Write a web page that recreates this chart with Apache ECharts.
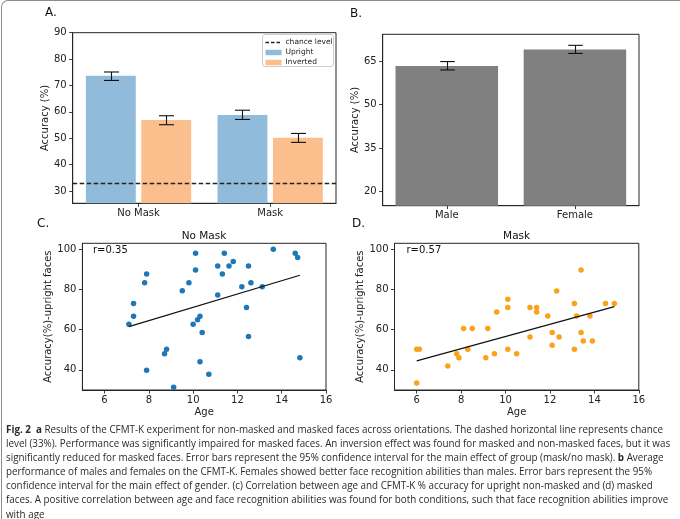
<!DOCTYPE html>
<html>
<head>
<meta charset="utf-8">
<script src="https://cdn.jsdelivr.net/npm/echarts@6/dist/echarts.min.js"></script>
<style>
  html, body { margin:0; padding:0; background:#fff; }
  #wrap { position:relative; width:680px; height:519px; overflow:hidden; background:#fff; }
  #chart { position:absolute; left:0; top:0; width:680px; height:519px; }
  #frame { position:absolute; left:1px; top:0px; width:760px; height:640px; border-top:1.5px solid #8c8c8c; border-left:1.5px solid #8c8c8c; border-top-left-radius:7px; pointer-events:none; }
  #caption { position:absolute; left:6px; top:422px; font-family:"Open Sans", sans-serif; color:#2a2a2a; font-size:10.6px; }
  #caption div { white-space:nowrap; height:14.1px; line-height:14.1px; transform-origin:0 50%; width:max-content; }
  #caption b { font-weight:700; }
</style>
</head>
<body>
<div id="wrap">
  <div id="chart"></div>
  <div id="frame"></div>
  <div id="caption">
    <div><b>Fig. 2</b>&nbsp; <b>a</b> Results of the CFMT-K experiment for non-masked and masked faces across orientations. The dashed horizontal line represents chance</div>
    <div>level (33%). Performance was significantly impaired for masked faces. An inversion effect was found for masked and non-masked faces, but it was</div>
    <div>significantly reduced for masked faces. Error bars represent the 95% confidence interval for the main effect of group (mask/no mask). <b>b</b> Average</div>
    <div>performance of males and females on the CFMT-K. Females showed better face recognition abilities than males. Error bars represent the 95%</div>
    <div>confidence interval for the main effect of gender. (c) Correlation between age and CFMT-K % accuracy for upright non-masked and (d) masked</div>
    <div>faces. A positive correlation between age and face recognition abilities was found for both conditions, such that face recognition abilities improve</div>
    <div>with age</div>
  </div>
</div>
<script>
// ---------- DATA ----------
const orientCats = ['No Mask', 'Mask'];
const uprightAcc = [73.7, 58.8];
const uprightErrLow = [71.9, 57.1];
const uprightErrHigh = [75.1, 60.6];
const invertedAcc = [56.9, 50.2];
const invertedErrLow = [55.1, 48.4];
const invertedErrHigh = [58.5, 51.8];
const chanceLevel = 33;
const accTicksA = [30, 40, 50, 60, 70, 80, 90];
const legendLabels = ['chance level', 'Upright', 'Inverted'];

const genderCats = ['Male', 'Female'];
const genderAcc = [63.3, 69.0];
const genderErrLow = [61.9, 67.6];
const genderErrHigh = [64.8, 70.4];
const accTicksB = [20, 35, 50, 65];

const noMaskAge = [7.1, 7.31, 7.31, 7.81, 7.9, 7.9, 8.71, 8.8, 9.12, 9.51, 9.81, 10.11, 10.11, 10.0, 10.2, 10.31, 10.41, 10.31, 10.71, 11.11, 11.11, 11.32, 11.41, 11.62, 11.81, 12.2, 12.5, 12.61, 12.41, 12.5, 13.12, 13.62, 14.61, 14.72, 14.82];
const noMaskAcc = [62.7, 66.7, 73.0, 83.4, 87.7, 39.8, 48.1, 50.3, 31.4, 79.4, 83.4, 98.0, 89.7, 62.7, 64.9, 66.7, 58.6, 44.0, 37.8, 91.7, 77.3, 87.7, 98.0, 91.7, 93.9, 81.4, 91.7, 83.4, 71.0, 56.6, 81.4, 100.0, 98.0, 95.9, 46.1];
const noMaskFitAge = [7.1, 14.82];
const noMaskFitAcc = [61.5, 87.1];
const noMaskR = 'r=0.35';

const maskAge = [6.0, 6.0, 6.12, 7.4, 7.8, 7.9, 8.11, 8.3, 8.5, 9.11, 9.2, 9.5, 9.6, 10.1, 10.1, 10.1, 10.5, 11.1, 11.1, 11.4, 11.4, 11.9, 12.1, 12.1, 12.3, 12.41, 13.1, 13.1, 13.2, 13.4, 13.4, 13.5, 13.8, 13.91, 14.5, 14.9];
const maskAcc = [33.5, 50.3, 50.3, 42.0, 48.1, 46.1, 60.6, 50.3, 60.6, 46.1, 60.6, 48.1, 68.8, 75.1, 71.0, 50.3, 48.1, 71.0, 56.4, 71.0, 68.8, 66.8, 58.6, 52.3, 79.3, 56.4, 73.0, 50.3, 66.8, 89.7, 58.6, 54.4, 66.8, 54.4, 73.0, 73.0];
const maskFitAge = [6.0, 14.9];
const maskFitAcc = [44.5, 71.5];
const maskR = 'r=0.57';

const ageTicks = [6, 8, 10, 12, 14, 16];
const scatterAccTicks = [40, 60, 80, 100];

// ---------- STYLE ----------
const FONT = 'DejaVu Sans';
const AX = '#262626';
const COL_UP = '#90bbdb', COL_INV = '#fbbf8d';
const zip = (a, b) => a.map((v, i) => [v, b[i]]);
const errData = (lo, hi) => lo.map((v, i) => [i, v, hi[i]]);

function errRender(sign, catGap, barGapRatio, nBars, capHalf) {
  return function (params, api) {
    const c = api.value(0);
    const lo = api.coord([c, api.value(1)]);
    const hi = api.coord([c, api.value(2)]);
    const band = api.size([1, 0])[0];
    const bw = band * (1 - catGap) / (nBars + (nBars - 1) * barGapRatio);
    const dx = nBars > 1 ? sign * (bw + bw * barGapRatio) / 2 : 0;
    const x = Math.round(lo[0] + dx) + 0.5;
    const st = { stroke: '#111', lineWidth: 1.1 };
    return { type: 'group', children: [
      { type: 'line', shape: { x1: x, y1: lo[1], x2: x, y2: hi[1] }, style: st },
      { type: 'line', shape: { x1: x - capHalf, y1: lo[1], x2: x + capHalf, y2: lo[1] }, style: st },
      { type: 'line', shape: { x1: x - capHalf, y1: hi[1], x2: x + capHalf, y2: hi[1] }, style: st }
    ]};
  };
}

function valAxis(gridIndex, min, max, ticks, name, nameGap) {
  return {
    type: 'value', gridIndex, min, max,
    splitLine: { show: false },
    axisLine: { show: true, lineStyle: { color: AX, width: 1 } },
    axisTick: { show: true, inside: false, length: 3.5, customValues: ticks, lineStyle: { color: AX, width: 0.9 } },
    axisLabel: { customValues: ticks, color: '#222', fontFamily: FONT, fontSize: 10, margin: 6 },
    name, nameLocation: 'middle', nameGap, nameRotate: 90,
    nameTextStyle: { color: '#222', fontFamily: FONT, fontSize: 10 }
  };
}
function catAxis(gridIndex, data) {
  return {
    type: 'category', gridIndex, data,
    axisLine: { show: true, lineStyle: { color: AX, width: 1 } },
    axisTick: { show: true, alignWithLabel: true, length: 3.5, lineStyle: { color: AX, width: 0.9 } },
    axisLabel: { color: '#222', fontFamily: FONT, fontSize: 10, margin: 5 },
    splitLine: { show: false }
  };
}
function ageAxis(gridIndex) {
  return {
    type: 'value', gridIndex, min: 5, max: 16,
    splitLine: { show: false },
    axisLine: { show: true, lineStyle: { color: AX, width: 1 } },
    axisTick: { show: true, length: 3.5, customValues: ageTicks, lineStyle: { color: AX, width: 0.9 } },
    axisLabel: { customValues: ageTicks, color: '#222', fontFamily: FONT, fontSize: 10, margin: 5 },
    name: 'Age', nameLocation: 'middle', nameGap: 17,
    nameTextStyle: { color: '#222', fontFamily: FONT, fontSize: 10 }
  };
}
const gridBase = { show: true, borderColor: AX, borderWidth: 1, backgroundColor: 'transparent' };

// hand-drawn legend box for panel A
const LG = { x: 262.5, y: 34.5, w: 71, h: 32 };
const legendGraphics = [
  { type: 'rect', shape: { x: LG.x, y: LG.y, width: LG.w, height: LG.h, r: 2.5 },
    style: { fill: '#fff', stroke: '#cdcdcd', lineWidth: 1 }, z: 50 },
  { type: 'line', shape: { x1: LG.x + 3, y1: LG.y + 8, x2: LG.x + 19, y2: LG.y + 8 },
    style: { stroke: '#222', lineWidth: 1.3, lineDash: [3.5, 2] }, z: 51 },
  { type: 'rect', shape: { x: LG.x + 3, y: LG.y + 15.3, width: 16, height: 5.4 }, style: { fill: COL_UP }, z: 51 },
  { type: 'rect', shape: { x: LG.x + 3, y: LG.y + 25.3, width: 16, height: 5.4 }, style: { fill: COL_INV }, z: 51 }
].concat(legendLabels.map((t, i) => ({
  type: 'text', x: LG.x + 23, y: LG.y + 7.8 + i * 10.1,
  style: { text: t, font: '7.5px "DejaVu Sans"', fill: '#222', align: 'left', verticalAlign: 'middle' }, z: 52
})));

const chart = echarts.init(document.getElementById('chart'), null, { renderer: 'canvas' });
const option = {
  animation: false,
  backgroundColor: 'transparent',
  grid: [
    Object.assign({ left: 72.7, top: 32.7, width: 263.3, height: 170.6 }, gridBase),
    Object.assign({ left: 382.7, top: 34.3, width: 256.3, height: 171.4 }, gridBase),
    Object.assign({ left: 82.4, top: 243.3, width: 243.6, height: 146.7 }, gridBase),
    Object.assign({ left: 394.5, top: 243.3, width: 244.3, height: 146.7 }, gridBase)
  ],
  xAxis: [ catAxis(0, orientCats), catAxis(1, genderCats), ageAxis(2), ageAxis(3) ],
  yAxis: [
    valAxis(0, 25.3, 90, accTicksA, 'Accuracy (%)', 21),
    valAxis(1, 15.1, 74.2, accTicksB, 'Accuracy (%)', 21),
    valAxis(2, 30, 103, scatterAccTicks, 'Accuracy(%)-upright faces', 26),
    valAxis(3, 30, 103, scatterAccTicks, 'Accuracy(%)-upright faces', 25)
  ],
  series: [
    { name: 'Upright', type: 'bar', xAxisIndex: 0, yAxisIndex: 0, data: uprightAcc,
      barCategoryGap: '20%', barGap: '11%', itemStyle: { color: COL_UP },
      markLine: { silent: true, symbol: 'none', label: { show: false },
        lineStyle: { color: '#222', type: [4.5, 2.5], width: 1.3 },
        data: [{ yAxis: chanceLevel }] } },
    { name: 'Inverted', type: 'bar', xAxisIndex: 0, yAxisIndex: 0, data: invertedAcc,
      barCategoryGap: '20%', barGap: '11%', itemStyle: { color: COL_INV } },
    { type: 'custom', xAxisIndex: 0, yAxisIndex: 0, data: errData(uprightErrLow, uprightErrHigh),
      renderItem: errRender(-1, 0.2, 0.11, 2, 7.5), encode: { x: 0, y: [1, 2] }, z: 5 },
    { type: 'custom', xAxisIndex: 0, yAxisIndex: 0, data: errData(invertedErrLow, invertedErrHigh),
      renderItem: errRender(1, 0.2, 0.11, 2, 7.5), encode: { x: 0, y: [1, 2] }, z: 5 },

    { name: 'Gender', type: 'bar', xAxisIndex: 1, yAxisIndex: 1, data: genderAcc,
      barCategoryGap: '20%', itemStyle: { color: '#808080' } },
    { type: 'custom', xAxisIndex: 1, yAxisIndex: 1, data: errData(genderErrLow, genderErrHigh),
      renderItem: errRender(0, 0.2, 0, 1, 7.3), encode: { x: 0, y: [1, 2] }, z: 5 },

    { name: 'No Mask pts', type: 'scatter', xAxisIndex: 2, yAxisIndex: 2, data: zip(noMaskAge, noMaskAcc),
      symbolSize: 5.5, itemStyle: { color: '#1f77b4', opacity: 1 }, z: 3 },
    { name: 'No Mask fit', type: 'line', xAxisIndex: 2, yAxisIndex: 2, data: zip(noMaskFitAge, noMaskFitAcc),
      symbol: 'none', lineStyle: { color: '#111', width: 1.2 }, z: 4 },
    { name: 'Mask pts', type: 'scatter', xAxisIndex: 3, yAxisIndex: 3, data: zip(maskAge, maskAcc),
      symbolSize: 5.5, itemStyle: { color: '#fca11c', opacity: 1 }, z: 3 },
    { name: 'Mask fit', type: 'line', xAxisIndex: 3, yAxisIndex: 3, data: zip(maskFitAge, maskFitAcc),
      symbol: 'none', lineStyle: { color: '#111', width: 1.2 }, z: 4 }
  ],
  graphic: [
    { type: 'text', left: 45, top: 7, style: { text: 'A.', font: '12px "DejaVu Sans"', fill: '#111' } },
    { type: 'text', left: 350, top: 8, style: { text: 'B.', font: '12px "DejaVu Sans"', fill: '#111' } },
    { type: 'text', left: 37, top: 218, style: { text: 'C.', font: '12px "DejaVu Sans"', fill: '#111' } },
    { type: 'text', left: 352, top: 218, style: { text: 'D.', font: '12px "DejaVu Sans"', fill: '#111' } },
    { type: 'text', x: 204, y: 236, style: { text: 'No Mask', font: '10.5px "DejaVu Sans"', fill: '#111', align: 'center', verticalAlign: 'middle' } },
    { type: 'text', x: 516.6, y: 236, style: { text: 'Mask', font: '10.5px "DejaVu Sans"', fill: '#111', align: 'center', verticalAlign: 'middle' } },
    { type: 'text', x: 93, y: 250, style: { text: noMaskR, font: '10px "DejaVu Sans"', fill: '#111', align: 'left', verticalAlign: 'middle' } },
    { type: 'text', x: 406.5, y: 250, style: { text: maskR, font: '10px "DejaVu Sans"', fill: '#111', align: 'left', verticalAlign: 'middle' } }
  ].concat(legendGraphics)
};
chart.setOption(option);

// caption: one horizontal compression for all lines, so the first line spans the figure's width
(function () {
  const lines = document.getElementById('caption').children;
  const w = lines[0].getBoundingClientRect().width;
  const s = Math.min(1, 657 / w).toFixed(4);
  for (let i = 0; i < lines.length; i++) lines[i].style.transform = 'scaleX(' + s + ')';
})();
</script>
</body>
</html>
